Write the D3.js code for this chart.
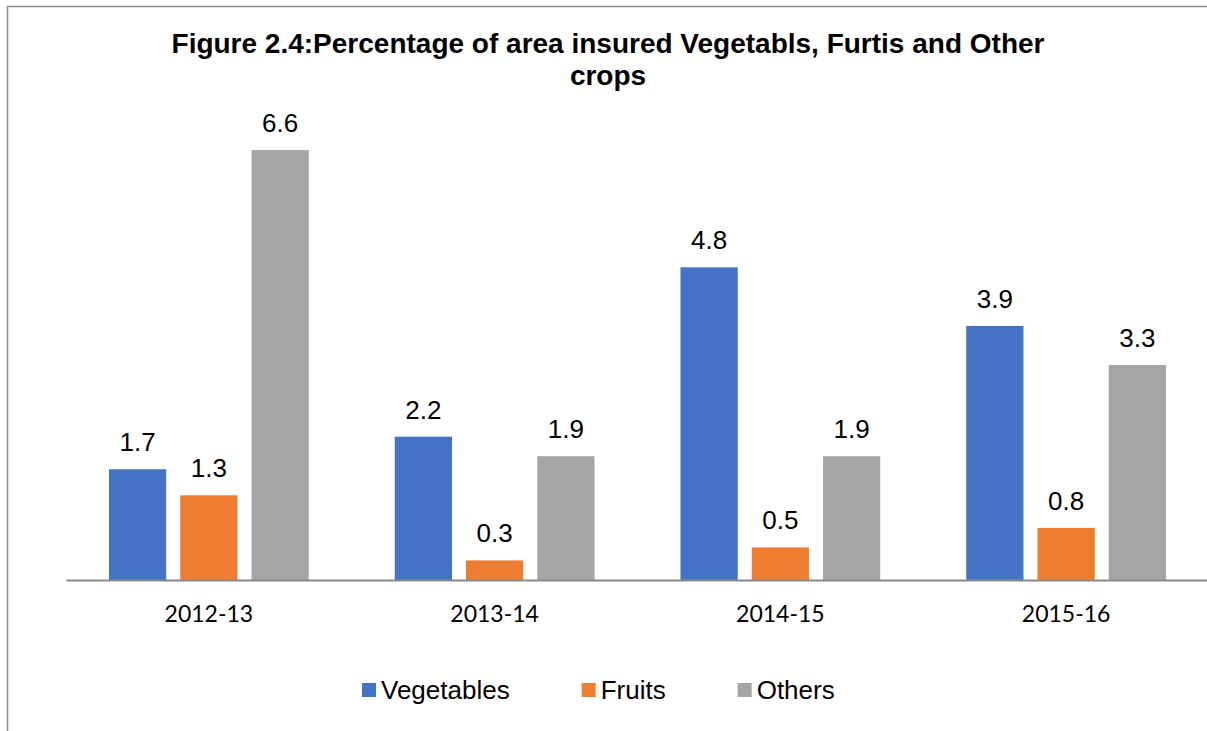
<!DOCTYPE html>
<html>
<head>
<meta charset="utf-8">
<script src="https://cdn.jsdelivr.net/npm/d3@7/dist/d3.min.js"></script>
<style>
  body { margin: 0; background: #fff; }
  svg { display: block; }
</style>
</head>
<body>
<svg id="chart" width="1207" height="731"></svg>
<script>
// data
const years = ["2012-13", "2013-14", "2014-15", "2015-16"];
const seriesNames = ["Vegetables", "Fruits", "Others"];
const vegetables = [1.7, 2.2, 4.8, 3.9];
const fruits = [1.3, 0.3, 0.5, 0.8];
const others = [6.6, 1.9, 1.9, 3.3];
const colors = ["#4472C4", "#ED7D31", "#A5A5A5"];
const titleLines = ["Figure 2.4:Percentage of area insured Vegetabls, Furtis and Other", "crops"];

const table = years.map((y, i) => ({
  year: y,
  Vegetables: vegetables[i],
  Fruits: fruits[i],
  Others: others[i]
}));

const svg = d3.select("#chart");
const width = Number(svg.attr("width"));
const height = Number(svg.attr("height"));

// frame (top + left edge visible)
svg.append("path")
  .attr("d", `M7.5,${height} L7.5,6.5 L${width},6.5`)
  .attr("fill", "none")
  .attr("stroke", "#8c8c8c")
  .attr("stroke-width", 1.5);

// title
const title = svg.append("text")
  .attr("text-anchor", "middle")
  .attr("font-family", "'Liberation Sans Narrow', 'Liberation Sans', Arial, sans-serif")
  .attr("font-weight", "bold")
  .attr("font-size", 28)
  .attr("fill", "#000");
title.append("tspan").attr("x", 608).attr("y", 53).text(titleLines[0]);
title.append("tspan").attr("x", 608).attr("y", 85).text(titleLines[1]);

const margin = {left: 66, right: -2, top: 124, bottom: 151};
const innerW = width - margin.left - margin.right;
const innerH = height - margin.top - margin.bottom;

const x0 = d3.scaleBand().domain(years).range([0, innerW]).padding(0);
const x1 = d3.scaleBand().domain(seriesNames)
  .range([43, x0.bandwidth() - 43])
  .paddingInner(0.197).paddingOuter(0);
const y = d3.scaleLinear().domain([0, 7]).range([innerH, 0]);
const color = d3.scaleOrdinal().domain(seriesNames).range(colors);

const g = svg.append("g").attr("transform", `translate(${margin.left},${margin.top})`);

const groups = g.append("g").selectAll("g")
  .data(table)
  .join("g")
  .attr("transform", d => `translate(${x0(d.year)},0)`);

groups.selectAll("rect")
  .data(d => seriesNames.map(k => ({key: k, value: d[k]})))
  .join("rect")
  .attr("x", d => x1(d.key))
  .attr("y", d => y(d.value))
  .attr("width", x1.bandwidth())
  .attr("height", d => innerH - y(d.value))
  .attr("fill", d => color(d.key));

groups.selectAll("text")
  .data(d => seriesNames.map(k => ({key: k, value: d[k]})))
  .join("text")
  .attr("x", d => x1(d.key) + x1.bandwidth() / 2)
  .attr("y", d => y(d.value) - 18)
  .attr("text-anchor", "middle")
  .attr("font-family", "'Liberation Sans', Arial, sans-serif")
  .attr("font-size", 26)
  .attr("fill", "#000")
  .text(d => d3.format(".1f")(d.value));

// x axis
const xAxis = g.append("g")
  .attr("transform", `translate(0,${innerH})`)
  .call(d3.axisBottom(x0).tickSize(0).tickPadding(26));
xAxis.select(".domain").attr("stroke", "#898989").attr("stroke-width", 2);
xAxis.selectAll("text")
  .attr("font-family", "Lato, 'Open Sans', sans-serif")
  .attr("font-size", 23)
  .attr("fill", "#000");

// legend
const legend = svg.append("g").attr("transform", "translate(362,690)");
let lx = 0;
seriesNames.forEach((name, i) => {
  const item = legend.append("g").attr("transform", `translate(${lx},0)`);
  item.append("rect")
    .attr("x", 0).attr("y", -7)
    .attr("width", 14).attr("height", 14)
    .attr("fill", color(name));
  const t = item.append("text")
    .attr("x", 19).attr("y", 9)
    .attr("font-family", "'Liberation Sans', Arial, sans-serif")
    .attr("font-size", 26)
    .attr("fill", "#000")
    .text(name);
  lx += 19 + t.node().getComputedTextLength() + 72;
});
</script>
</body>
</html>
